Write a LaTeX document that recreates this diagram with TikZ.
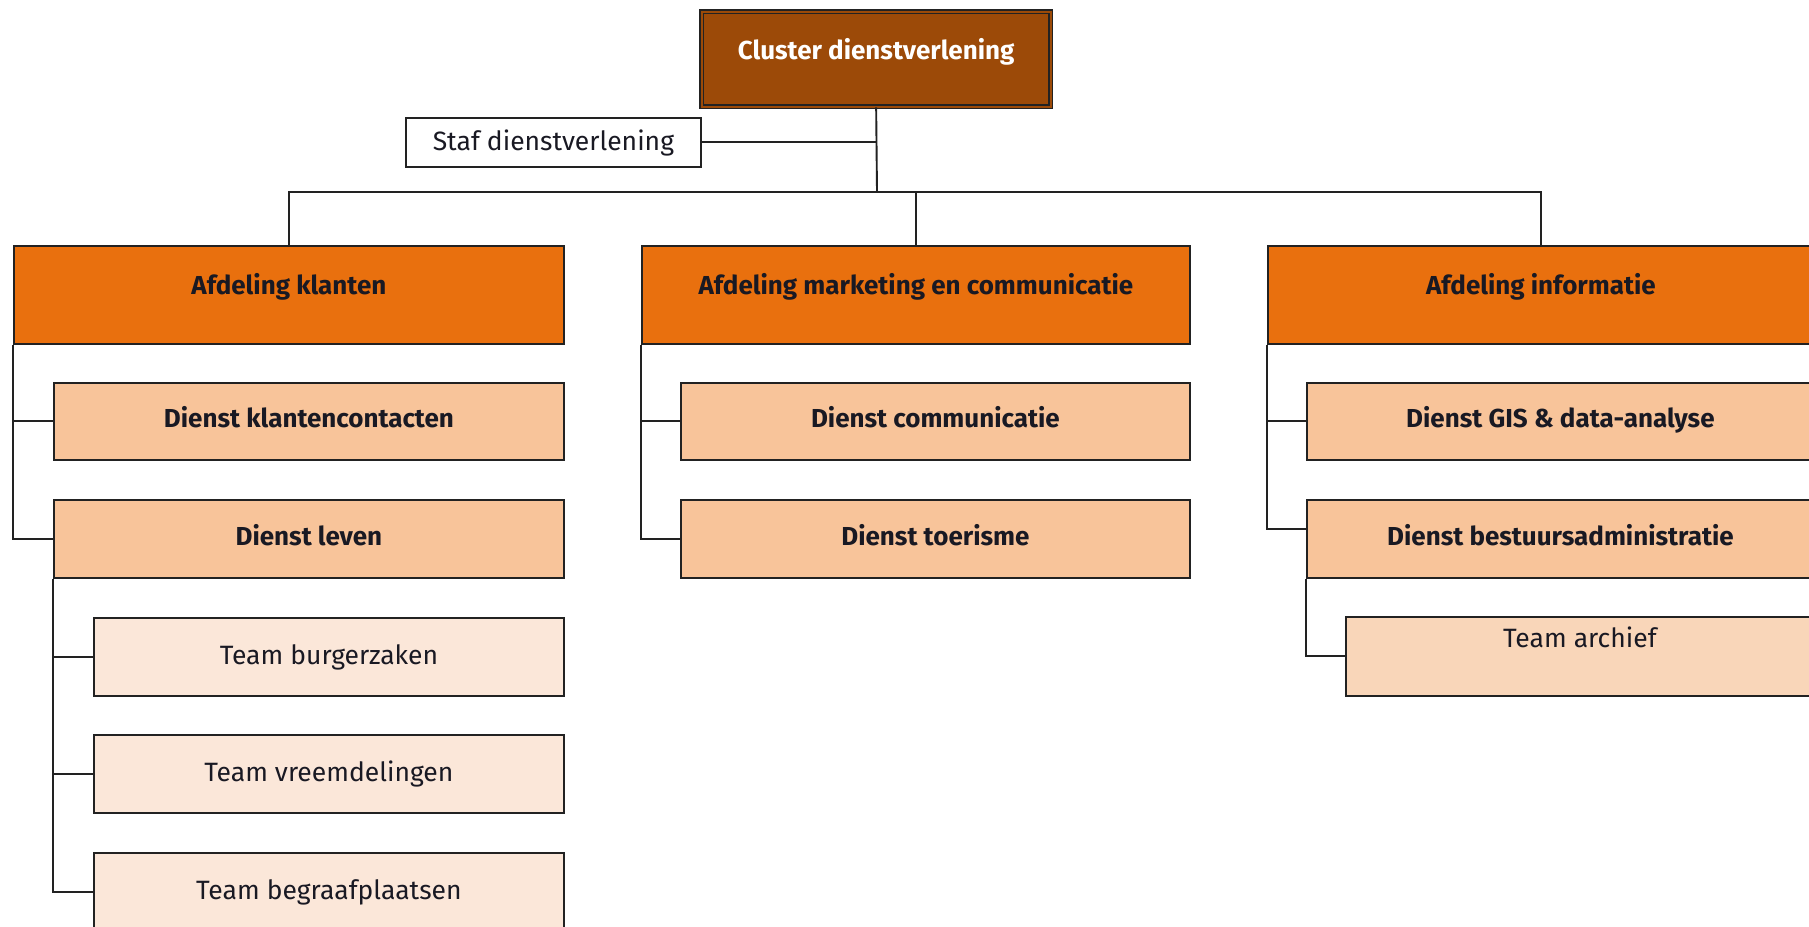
\documentclass[tikz,border=0pt]{standalone}
\usepackage{fontspec}
\setmainfont{Fira Sans}
\usetikzlibrary{calc}
\definecolor{clusterc}{RGB}{156,74,8}
\definecolor{afdc}{RGB}{233,112,14}
\definecolor{dienstc}{RGB}{248,196,154}
\definecolor{teamc}{RGB}{251,231,217}
\definecolor{archc}{RGB}{249,214,185}
\definecolor{linec}{RGB}{34,34,34}
\definecolor{textc}{RGB}{25,25,35}
\begin{document}
\begin{tikzpicture}[x=1pt,y=-1pt,
  every node/.style={font=\fontsize{26.5}{30}\selectfont, text=textc},
  box/.style={draw=linec, line width=1.8pt, inner xsep=0pt, inner ysep=0pt, anchor=north west, align=center},
  geom/.style n args={3}{minimum width=#1, text height=#2, text depth=#3},
  boldtext/.style={font=\fontsize{26}{30}\selectfont\bfseries},
  topbox/.style={box, draw=linec, double=clusterc, double distance=2pt, line width=1.3pt, fill=clusterc, text=white, boldtext},
  stafbox/.style={box, fill=white},
  afdbox/.style={box, fill=afdc, boldtext},
  dienstbox/.style={box, fill=dienstc, boldtext},
  teambox/.style={box, fill=teamc},
  archbox/.style={box, fill=archc},
  conn/.style={draw=linec, line width=1.9pt}
]
\useasboundingbox (0,0) rectangle (1809,926);

% top
\node[topbox, geom={349}{48}{47}] (cl) at (701,11) {Cluster dienstverlening};
\node[stafbox, geom={295}{33}{16}] (staf) at (405,117) {Staf dienstverlening};

% afdelingen
\node[afdbox, geom={550}{49}{49}] (ak) at (13,245) {Afdeling klanten};
\node[afdbox, geom={548}{49}{49}] (am) at (641,245) {Afdeling marketing en communicatie};
\node[afdbox, geom={546}{49}{49}] (ai) at (1267,245) {Afdeling informatie};

% diensten
\node[dienstbox, geom={510}{45}{32}] (dk) at (53,382) {Dienst klantencontacten};
\node[dienstbox, geom={510}{46}{32}] (dl) at (53,499) {Dienst leven};
\node[dienstbox, geom={509}{45}{32}] (dc) at (680,382) {Dienst communicatie};
\node[dienstbox, geom={509}{46}{32}] (dt) at (680,499) {Dienst toerisme};
\node[dienstbox, geom={507}{45}{32}] (dg) at (1306,382) {Dienst GIS \& data-analyse};
\node[dienstbox, geom={507}{46}{32}] (db) at (1306,499) {Dienst bestuursadministratie};

% teams
\node[teambox, geom={470}{47}{31}] (tb) at (93,617) {Team burgerzaken};
\node[teambox, geom={470}{47}{31}] (tv) at (93,734) {Team vreemdelingen};
\node[teambox, geom={470}{47}{31}] (tg) at (93,852) {Team begraafplaatsen};
\node[archbox, geom={468}{31}{48}] (ta) at (1345,616) {Team archief};

% connectors
\coordinate (bus) at (877,192);
\draw[conn] (cl.south) -- (bus);
\draw[conn] (staf.east) -- (staf.east -| cl.south);
\draw[conn] (ak.north) |- (bus) -| (ai.north);
\draw[conn] (am.north) -- (am.north |- bus);

\draw[conn] (ak.south west) |- (dk.west);
\draw[conn] (ak.south west) |- (dl.west);
\draw[conn] (am.south west) |- (dc.west);
\draw[conn] (am.south west) |- (dt.west);
\draw[conn] (ai.south west) |- (dg.west);
\draw[conn] (ai.south west) |- ($(db.west)+(0,-10)$);

\draw[conn] (dl.south west) |- (tb.west);
\draw[conn] (dl.south west) |- (tv.west);
\draw[conn] (dl.south west) |- (tg.west);
\draw[conn] (db.south west) |- (ta.west);
\end{tikzpicture}
\end{document}
